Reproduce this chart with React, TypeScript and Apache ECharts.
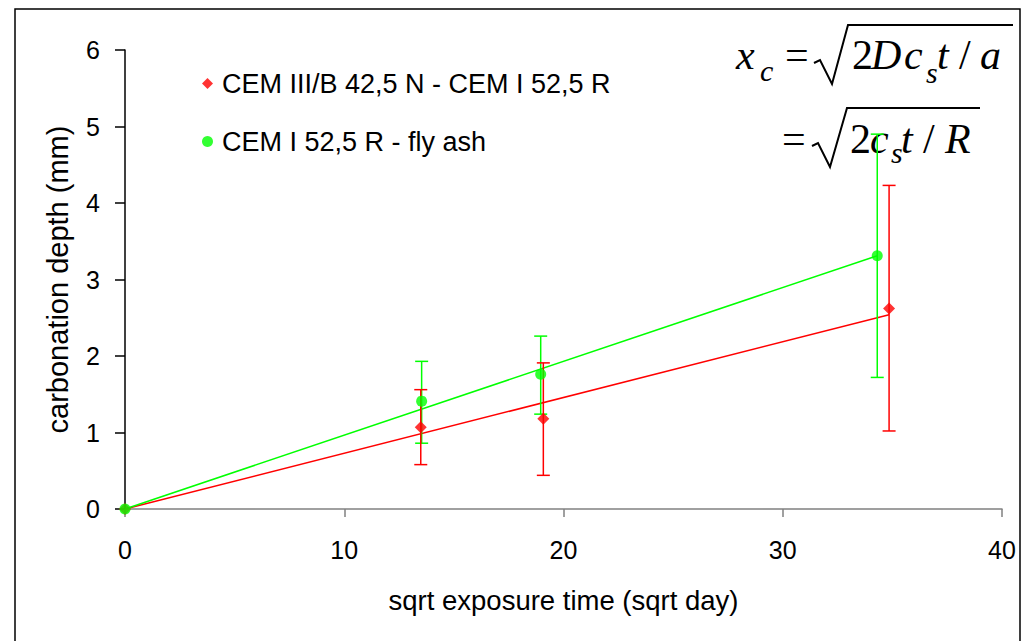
import React, { useEffect, useRef } from "react";
import * as echarts from "echarts";

const redName = "CEM III/B 42,5 N - CEM I 52,5 R";
const greenName = "CEM I 52,5 R - fly ash";

const xTicks = [0, 10, 20, 30, 40];
const yTicks = [0, 1, 2, 3, 4, 5, 6];

const redX = [0, 13.49, 19.08, 34.85];
const redY = [0, 1.07, 1.18, 2.62];
const redErrX = [13.49, 19.08, 34.85];
const redLow = [0.58, 0.44, 1.02];
const redHigh = [1.56, 1.91, 4.23];
const redFitX = [0, 34.85];
const redFitY = [0, 2.54];

const greenX = [0, 13.53, 18.96, 34.31];
const greenY = [0, 1.41, 1.76, 3.31];
const greenErrX = [13.53, 18.96, 34.31];
const greenLow = [0.86, 1.24, 1.72];
const greenHigh = [1.93, 2.26, 4.9];
const greenFitX = [0, 34.31];
const greenFitY = [0, 3.31];

const RED = "#ff0000";
const GREEN = "#00ff00";
const SANS = "'Liberation Sans', Arial, sans-serif";
const SERIF = "'Liberation Serif', 'Times New Roman', serif";

function pairs(xs: number[], ys: number[]) {
  return xs.map((x, i) => [x, ys[i]]);
}
function triples(xs: number[], lo: number[], hi: number[]) {
  return xs.map((x, i) => [x, lo[i], hi[i]]);
}

function errorSeries(color: string, data: number[][]) {
  return {
    type: "custom",
    data,
    encode: { x: 0, y: [1, 2] },
    silent: true,
    renderItem: (params: any, api: any) => {
      const x = api.value(0);
      const lo = api.coord([x, api.value(1)]);
      const hi = api.coord([x, api.value(2)]);
      const w = 6.5;
      const st = { stroke: color, lineWidth: 1.5 };
      return {
        type: "group",
        children: [
          { type: "line", shape: { x1: lo[0], y1: lo[1], x2: hi[0], y2: hi[1] }, style: st },
          { type: "line", shape: { x1: lo[0] - w, y1: lo[1], x2: lo[0] + w, y2: lo[1] }, style: st },
          { type: "line", shape: { x1: hi[0] - w, y1: hi[1], x2: hi[0] + w, y2: hi[1] }, style: st },
        ],
      };
    },
    z: 2,
  };
}

function t(text: string, x: number, y: number, size: number, italic: boolean) {
  return {
    type: "text",
    x,
    y,
    silent: true,
    style: {
      text,
      font: `${italic ? "italic " : ""}${size}px ${SERIF}`,
      fill: "#000",
      align: "left",
      verticalAlign: "middle",
    },
  };
}

export default function App() {
  const ref = useRef<HTMLDivElement>(null);
  useEffect(() => {
    if (!ref.current) return;
    const chart = echarts.init(ref.current, undefined, { renderer: "svg" });
    const option: any = {
      animation: false,
      backgroundColor: "#ffffff",
      grid: { left: 125, right: 24, top: 50, bottom: 132, containLabel: false },
      xAxis: {
        type: "value",
        min: xTicks[0],
        max: xTicks[xTicks.length - 1],
        interval: 10,
        name: "sqrt exposure time (sqrt day)",
        nameLocation: "middle",
        nameGap: 77,
        nameTextStyle: { fontFamily: SANS, fontSize: 27.5, color: "#000" },
        axisLine: { show: true, onZero: false, lineStyle: { color: "#808080", width: 1.5 } },
        axisTick: { show: true, inside: false, length: 8, lineStyle: { color: "#808080", width: 1.5 } },
        axisLabel: { fontFamily: SANS, fontSize: 25, color: "#000", margin: 28 },
        splitLine: { show: false },
      },
      yAxis: {
        type: "value",
        min: yTicks[0],
        max: yTicks[yTicks.length - 1],
        interval: 1,
        name: "carbonation depth (mm)",
        nameLocation: "middle",
        nameGap: 53,
        nameRotate: 90,
        nameTextStyle: { fontFamily: SANS, fontSize: 29, color: "#000" },
        axisLine: { show: true, onZero: false, lineStyle: { color: "#000", width: 1.5 } },
        axisTick: { show: true, inside: false, length: 10, lineStyle: { color: "#000", width: 1.5 } },
        axisLabel: { fontFamily: SANS, fontSize: 25, color: "#000", margin: 25 },
        splitLine: { show: false },
      },
      legend: {
        orient: "vertical",
        left: 197,
        top: 65,
        itemWidth: 11,
        itemHeight: 11,
        itemGap: 31,
        textStyle: { fontFamily: SANS, fontSize: 27, color: "#000", lineHeight: 26, padding: [0, 0, 0, 4] },
        data: [
          { name: redName, icon: "diamond" },
          { name: greenName, icon: "circle" },
        ],
      },
      graphic: [
        {
          type: "rect",
          z: -10,
          silent: true,
          shape: { x: 15, y: 9, width: 1005, height: 700 },
          style: { fill: "none", stroke: "#000", lineWidth: 1.5 },
        },
        t("x", 736, 55, 42, true),
        t("c", 760, 70, 30, true),
        t("=", 785, 55, 42, false),
        {
          type: "polyline",
          silent: true,
          shape: { points: [[814, 63], [820, 60], [832, 84], [848, 25], [1013, 25]] },
          style: { stroke: "#000", lineWidth: 2, fill: "none" },
        },
        t("2", 852, 55, 42, false),
        t("D", 871, 55, 42, true),
        t("c", 904, 55, 42, true),
        t("s", 926, 72, 30, true),
        t("t", 937, 55, 42, true),
        t("/", 959, 55, 42, false),
        t("a", 980, 55, 42, true),
        t("=", 782, 139, 42, false),
        {
          type: "polyline",
          silent: true,
          shape: { points: [[812, 146], [818, 143], [830, 167], [847, 108], [980, 108]] },
          style: { stroke: "#000", lineWidth: 2, fill: "none" },
        },
        t("2", 850, 139, 42, false),
        t("c", 870, 139, 42, true),
        t("s", 891, 152, 30, true),
        t("t", 901, 139, 42, true),
        t("/", 923, 139, 42, false),
        t("R", 945, 139, 42, true),
      ],
      series: [
        {
          type: "line",
          data: pairs(redFitX, redFitY),
          showSymbol: false,
          silent: true,
          lineStyle: { color: RED, width: 1.5 },
          z: 1,
        },
        {
          type: "line",
          data: pairs(greenFitX, greenFitY),
          showSymbol: false,
          silent: true,
          lineStyle: { color: GREEN, width: 1.5 },
          z: 1,
        },
        errorSeries(GREEN, triples(greenErrX, greenLow, greenHigh)),
        errorSeries(RED, triples(redErrX, redLow, redHigh)),
        {
          name: redName,
          type: "scatter",
          symbol: "diamond",
          symbolSize: 12,
          itemStyle: { color: RED },
          data: pairs(redX, redY),
          z: 3,
        },
        {
          name: greenName,
          type: "scatter",
          symbol: "circle",
          symbolSize: 11,
          itemStyle: { color: GREEN },
          data: pairs(greenX, greenY),
          z: 4,
        },
      ],
    };
    chart.setOption(option);
    return () => chart.dispose();
  }, []);
  return (
    <div
      ref={ref}
      style={{ position: "absolute", left: 0, top: 0, width: 1026, height: 641, background: "#fff" }}
    />
  );
}
